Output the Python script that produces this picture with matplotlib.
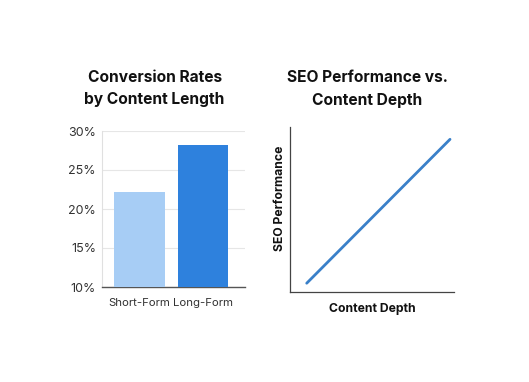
import matplotlib
matplotlib.use("Agg")
import matplotlib.pyplot as plt

plt.rcParams['font.family'] = ['Inter', 'DejaVu Sans']

categories = ["Short-Form", "Long-Form"]
conversion = [22.2, 28.2]
bar_colors = ["#A7CDF5", "#2E81DD"]
yticks = [10, 15, 20, 25, 30]
ytick_labels = ["10%", "15%", "20%", "25%", "30%"]

depth = [1, 10]
seo = [1, 10]

fig = plt.figure(figsize=(5.29, 3.82), dpi=100)
W, H = 529, 382

def rect(x0, y0, x1, y1):
    return [x0 / W, 1 - y1 / H, (x1 - x0) / W, (y1 - y0) / H]

ax1 = fig.add_axes(rect(101.5, 131, 245, 287))
ax1.bar(range(len(categories)), conversion, width=0.8, color=bar_colors,
        bottom=0, zorder=3)
ax1.set_ylim(10, 30)
ax1.set_xlim(-0.6, 1.66)
ax1.set_yticks(yticks)
ax1.set_yticklabels(ytick_labels)
ax1.set_xticks(range(len(categories)))
ax1.set_xticklabels(categories)
ax1.tick_params(axis='y', length=0, labelsize=9, colors="#333333", pad=4)
ax1.tick_params(axis='x', length=0, labelsize=8.2, colors="#333333", pad=8)
ax1.grid(axis='y', color="#E6E6E6", linewidth=0.8, zorder=0)
for s in ["top", "right"]:
    ax1.spines[s].set_visible(False)
ax1.spines["left"].set_color("#E0E0E0")
ax1.spines["left"].set_linewidth(0.8)
ax1.spines["bottom"].set_color("#555555")
ax1.spines["bottom"].set_linewidth(1.0)
ax1.text(0.37, 1.27, "Conversion Rates\nby Content Length", transform=ax1.transAxes,
         ha="center", va="center", fontsize=11.2, fontweight="bold",
         linespacing=1.6, color="#111111")

ax2 = fig.add_axes(rect(290, 127, 454, 292))
ax2.plot(depth, seo, color="#3A80C9", linewidth=2.0, solid_capstyle="round")
ax2.set_xlim(-0.05, 10.25)
ax2.set_ylim(0.45, 10.77)
ax2.set_xticks([])
ax2.set_yticks([])
for s in ["top", "right"]:
    ax2.spines[s].set_visible(False)
for s in ["left", "bottom"]:
    ax2.spines[s].set_color("#444444")
    ax2.spines[s].set_linewidth(0.9)
ax2.set_xlabel("Content Depth", fontsize=8.8, fontweight="bold", labelpad=8, color="#111111")
ax2.set_ylabel("SEO Performance", fontsize=8.8, fontweight="bold", color="#111111")
ax2.yaxis.set_label_coords(-0.025, 0.57)
ax2.text(0.47, 1.23, "SEO Performance vs.\nContent Depth", transform=ax2.transAxes,
         ha="center", va="center", fontsize=11.2, fontweight="bold",
         linespacing=1.6, color="#111111")

fig.savefig("out.png", dpi=100, facecolor="white")
